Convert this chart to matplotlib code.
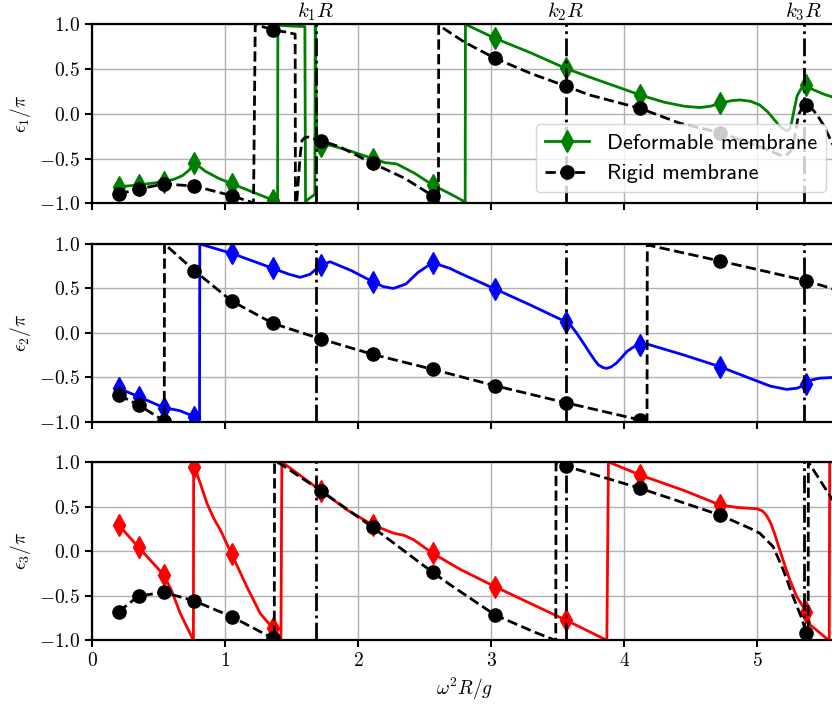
import matplotlib
matplotlib.use("Agg")
import matplotlib.pyplot as plt
import matplotlib.transforms as mtransforms

plt.rcParams.update({
    "font.family": "serif",
    "font.serif": ["cmr10"],
    "mathtext.fontset": "cm",
    "axes.formatter.use_mathtext": True,
    "axes.unicode_minus": True,
})

# Sampling points (omega^2 R / g) where markers are placed
marker_x = [0.20, 0.35, 0.54, 0.77, 1.05, 1.36, 1.72, 2.11, 2.56, 3.03, 3.56, 4.12, 4.72, 5.37]

# Resonance positions k_n R
k_values = [1.68, 3.56, 5.35]
k_labels = [r"$k_1R$", r"$k_2R$", r"$k_3R$"]

# epsilon_1 / pi
eps1_def_x = [0.20, 0.35, 0.54, 0.62, 0.68, 0.73, 0.77, 0.85, 0.95, 1.05, 1.20, 1.36, 1.395, 1.397,
              1.50, 1.60, 1.605, 1.62, 1.675, 1.678, 1.69, 1.72, 1.79, 1.95, 2.11, 2.20, 2.29, 2.42,
              2.56, 2.70, 2.805, 2.807, 3.03, 3.30, 3.56, 3.74, 3.95, 4.12, 4.30, 4.45, 4.57, 4.65,
              4.72, 4.80, 4.87, 4.95, 5.02, 5.08, 5.12, 5.17, 5.22, 5.245, 5.26, 5.28, 5.30, 5.33,
              5.37, 5.42, 5.50, 5.60]
eps1_def_y = [-0.815, -0.795, -0.758, -0.73, -0.69, -0.63, -0.546, -0.64, -0.72, -0.78, -0.87,
              -0.963, -0.985, 0.99, 0.98, 0.975, -0.98, -0.96, -0.90, 1.0, -0.35, -0.36, -0.35,
              -0.42, -0.50, -0.545, -0.56, -0.66, -0.795, -0.90, -0.985, 1.0, 0.843, 0.68, 0.508,
              0.41, 0.30, 0.21, 0.13, 0.085, 0.07, 0.085, 0.117, 0.145, 0.155, 0.14, 0.098, 0.02,
              -0.05, -0.14, -0.19, -0.17, -0.09, 0.06, 0.20, 0.28, 0.32, 0.27, 0.22, 0.17]
eps1_rig_x = [0.20, 0.35, 0.54, 0.77, 1.05, 1.214, 1.227, 1.36, 1.45, 1.527, 1.529, 1.54, 1.565,
              1.578, 1.60, 1.627, 1.67, 1.72, 1.86, 2.11, 2.35, 2.56, 2.604, 2.606, 2.80, 3.03, 3.30,
              3.56, 3.74, 4.12, 4.42, 4.72, 5.02, 5.17, 5.20, 5.23, 5.25, 5.27, 5.29, 5.31, 5.34,
              5.37, 5.41, 5.45, 5.50, 5.60]
eps1_rig_y = [-0.896, -0.84, -0.784, -0.807, -0.915, -0.995, 1.0, 0.936, 0.915, 0.89, -1.0, -0.96,
              -0.46, -0.30, -0.265, -0.26, -0.28, -0.30, -0.367, -0.553, -0.72, -0.915, -0.99, 0.99,
              0.80, 0.62, 0.45, 0.31, 0.21, 0.061, -0.106, -0.21, -0.367, -0.46, -0.47, -0.45,
              -0.42, -0.35, -0.19, -0.01, 0.07, 0.10, 0.06, -0.01, -0.13, -0.44]

# epsilon_2 / pi
eps2_def_x = [0.20, 0.35, 0.54, 0.66, 0.77, 0.808, 0.81, 1.05, 1.36, 1.48, 1.565, 1.64, 1.72, 1.79,
              1.95, 2.11, 2.19, 2.266, 2.36, 2.45, 2.56, 2.69, 2.767, 3.03, 3.30, 3.56, 3.60, 3.644,
              3.70, 3.743, 3.78, 3.806, 3.84, 3.868, 3.90, 3.94, 3.98, 4.02, 4.07, 4.12, 4.17, 4.45,
              4.72, 4.946, 5.10, 5.22, 5.296, 5.34, 5.37, 5.41, 5.47, 5.60]
eps2_def_y = [-0.624, -0.718, -0.842, -0.876, -0.944, -1.0, 1.0, 0.895, 0.726, 0.66, 0.625, 0.66,
              0.764, 0.80, 0.70, 0.576, 0.52, 0.50, 0.55, 0.68, 0.79, 0.726, 0.67, 0.494, 0.31,
              0.125, 0.08, -0.005, -0.13, -0.23, -0.31, -0.36, -0.39, -0.40, -0.385, -0.343, -0.28,
              -0.21, -0.16, -0.137, -0.125, -0.25, -0.381, -0.512, -0.60, -0.636, -0.624, -0.60,
              -0.576, -0.53, -0.51, -0.50]
eps2_rig_x = [0.20, 0.35, 0.54, 0.543, 0.545, 0.77, 1.05, 1.36, 1.72, 2.11, 2.56, 3.03, 3.56, 4.12,
              4.172, 4.174, 4.72, 5.37, 5.60]
eps2_rig_y = [-0.70, -0.812, -0.99, -1.0, 1.0, 0.70, 0.358, 0.107, -0.069, -0.242, -0.41, -0.595,
              -0.786, -0.98, -1.0, 0.99, 0.809, 0.587, 0.48]

# epsilon_3 / pi
eps3_def_x = [0.20, 0.35, 0.54, 0.60, 0.663, 0.762, 0.764, 0.77, 0.79, 0.814, 0.864, 0.914, 0.964,
              1.05, 1.164, 1.265, 1.36, 1.42, 1.427, 1.72, 1.92, 2.11, 2.27, 2.35, 2.42, 2.56,
              2.767, 3.03, 3.30, 3.56, 3.87, 3.882, 4.12, 4.45, 4.72, 4.85, 4.946, 5.00, 5.04, 5.07,
              5.10, 5.13, 5.17, 5.21, 5.246, 5.297, 5.37, 5.40, 5.45, 5.52, 5.542, 5.545, 5.60]
eps3_def_y = [0.293, 0.043, -0.268, -0.45, -0.697, -1.0, 1.0, 0.948, 0.86, 0.76, 0.536, 0.37, 0.24,
              -0.035, -0.40, -0.70, -0.866, -1.0, 1.0, 0.678, 0.46, 0.293, 0.20, 0.175, 0.125,
              -0.024, -0.204, -0.399, -0.59, -0.772, -1.0, 1.0, 0.854, 0.68, 0.518, 0.49, 0.48,
              0.475, 0.45, 0.40, 0.32, 0.20, 0.013, -0.17, -0.324, -0.51, -0.68, -0.83, -0.89,
              -0.978, -1.0, 1.0, 1.0]
eps3_rig_x = [0.20, 0.35, 0.54, 0.77, 1.05, 1.36, 1.37, 1.372, 1.41, 1.72, 2.11, 2.56, 2.69, 3.03,
              3.318, 3.456, 3.486, 3.488, 3.56, 4.12, 4.72, 4.946, 5.02, 5.12, 5.196, 5.27, 5.33,
              5.37, 5.383, 5.385, 5.47, 5.60]
eps3_rig_y = [-0.679, -0.503, -0.462, -0.559, -0.735, -0.978, -1.0, 1.0, 0.985, 0.678, 0.267,
              -0.237, -0.375, -0.716, -0.903, -0.985, -1.0, 0.99, 0.955, 0.705, 0.405, 0.256, 0.20,
              0.05, -0.21, -0.51, -0.735, -0.92, -1.0, 1.0, 0.80, 0.50]

panels = [
    (eps1_def_x, eps1_def_y, eps1_rig_x, eps1_rig_y, "green", r"$\epsilon_1/\pi$"),
    (eps2_def_x, eps2_def_y, eps2_rig_x, eps2_rig_y, "blue", r"$\epsilon_2/\pi$"),
    (eps3_def_x, eps3_def_y, eps3_rig_x, eps3_rig_y, "red", r"$\epsilon_3/\pi$"),
]


def marker_indices(xs):
    return [i for i, v in enumerate(xs) if any(abs(v - m) < 1e-9 for m in marker_x)]


fig = plt.figure(figsize=(8.32, 7.04), dpi=100)
rects = [
    [0.1106, 0.7112, 0.8954, 0.2543],
    [0.1106, 0.4010, 0.8954, 0.2524],
    [0.1106, 0.0905, 0.8954, 0.2533],
]

axes = []
for rect, (dx, dy, rx, ry, color, ylab) in zip(rects, panels):
    ax = fig.add_axes(rect)
    axes.append(ax)
    ax.plot(dx, dy, color=color, lw=2.0, marker="d", ms=11,
            markevery=marker_indices(dx), label="Deformable membrane")
    ax.plot(rx, ry, color="k", ls="--", lw=2.0, marker="o", ms=9.5,
            markevery=marker_indices(rx), label="Rigid membrane")
    for k in k_values:
        ax.axvline(k, color="k", ls="-.", lw=2.0)
    ax.set_xlim(0, 5.6)
    ax.set_ylim(-1.0, 1.0)
    ax.set_xticks([0, 1, 2, 3, 4, 5])
    ax.set_yticks([-1.0, -0.5, 0.0, 0.5, 1.0])
    ax.grid(True, color="#b0b0b0", lw=1.0)
    ax.set_axisbelow(True)
    for sp in ax.spines.values():
        sp.set_linewidth(1.6)
    ax.tick_params(width=1.5, length=5, labelsize=14)
    ax.set_ylabel(ylab, fontsize=14)

axes[0].tick_params(labelbottom=False)
axes[1].tick_params(labelbottom=False)
axes[2].set_xlabel(r"$\omega^2R/g$", fontsize=14)

trans = mtransforms.blended_transform_factory(axes[0].transData, axes[0].transAxes)
for k, lab in zip(k_values, k_labels):
    axes[0].text(k, 1.005, lab, transform=trans, ha="center", va="bottom", fontsize=15)

axes[0].legend(loc="lower right", prop={"family": "cmss10", "size": 16})

fig.savefig("out.png", dpi=100)
